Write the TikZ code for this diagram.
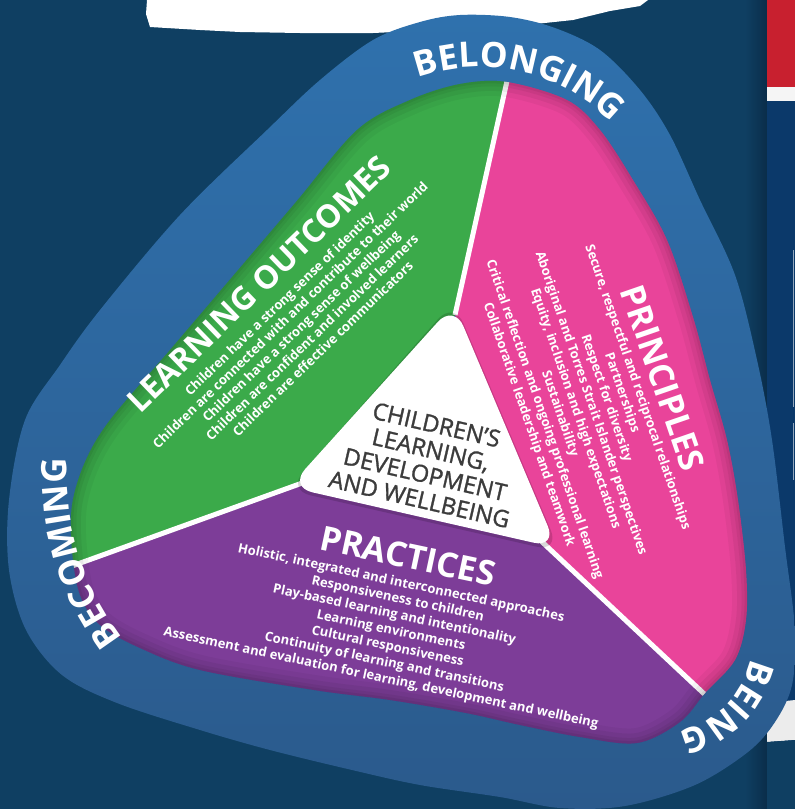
\documentclass[tikz,border=0pt]{standalone}
\usepackage{fontspec}
\setmainfont{Open Sans}
\newfontfamily\centerfont[FakeBold=1.3]{Open Sans}
\usetikzlibrary{decorations.text}
\definecolor{bg}{HTML}{0F3F62}
\definecolor{bgdark}{HTML}{0A2D4A}
\definecolor{pagenavy}{HTML}{0B396A}
\definecolor{pagered}{HTML}{C8202F}
\definecolor{ringtop}{HTML}{2F71AD}
\definecolor{ringbot}{HTML}{2B5A8C}
\definecolor{seggreen}{HTML}{3BAA4A}
\definecolor{segpink}{HTML}{E9449A}
\definecolor{segpurple}{HTML}{7D3D98}
\definecolor{coretext}{HTML}{3C3C3C}
\newcommand\ringfont{\bfseries\fontsize{35}{35}\selectfont}
\tikzset{
  segtitle/.style={text=white, inner sep=0pt, font=\bfseries\fontsize{34}{34}\selectfont},
  seglist/.style={text=white, align=center, inner sep=0pt, font=\bfseries\fontsize{13}{16.2}\selectfont},
  centertext/.style={text=coretext, align=center, inner sep=0pt, font=\centerfont\fontsize{23.5}{25.5}\selectfont},
  divider/.style={white, line width=5pt},
  innershade/.style={black, opacity=#1},
}
\begin{document}
\begin{tikzpicture}[x=1pt,y=1pt]
\useasboundingbox (0,0) rectangle (795,-809);
\fill[bg] (0,0) rectangle (795,-809);
% right page
\shade[left color=bg, right color=bgdark] (745,0) rectangle (767,-809);
\fill[pagenavy] (767,0) rectangle (795,-809);
\fill[pagered] (767,0) rectangle (795,-87);
\fill[white!92!gray] (767,-87) rectangle (795,-101);
\draw[white!55!pagenavy, line width=1pt] (793,-250) -- (793,-407);
\draw[white!55!pagenavy, line width=1pt] (793,-423) -- (793,-480);
\fill[white!85!gray] (767,-703) -- (795,-700) -- (795,-740) -- (767,-742) -- cycle;
\fill[bg] (767,-742) -- (795,-740) -- (795,-809) -- (767,-809) -- cycle;
% torn paper
\fill[white] (147,0) -- (146,-14) -- (150,-27) -- (200,-30) -- (240,-32) -- (300,-33) -- (373,-33) -- (440,-30) -- (507,-27) -- (573,-20) -- (610,-11) -- (640,-6) -- (648,0) -- cycle;
% ring
\shade[top color=ringtop, bottom color=ringbot] plot[smooth cycle, tension=0.55] coordinates {
 (460,-15) (510,-17) (555,-28) (600,-50) (640,-90) (670,-135) (700,-200) (735,-275) (757,-360) (772,-440) (785,-547) (795,-630) (792,-685) (775,-722) (748,-752) (695,-785) (625,-806) (560,-808) (500,-797) (420,-785) (352,-770) (270,-750) (200,-730) (117,-703) (62,-675) (26,-630) (9,-570) (9,-500) (25,-420) (60,-365) (100,-310) (180,-215) (267,-130) (320,-80) (373,-40) (420,-22)};
% segments
\begin{scope}
\clip plot[smooth cycle, tension=0.55] coordinates {
 (460,-84) (507,-82) (567,-100) (600,-130) (633,-180) (667,-240) (693,-317) (710,-380) (727,-440) (738,-500) (746,-570) (746,-620) (735,-660) (705,-693) (680,-722) (637,-743) (580,-737) (520,-725) (466,-713) (390,-700) (314,-690) (200,-670) (140,-648) (100,-625) (80,-595) (72,-550) (72,-505) (85,-462) (110,-420) (170,-350) (233,-276) (296,-202) (357,-130) (410,-100)};
\fill[seggreen] (455,-315) -- (525,0) -- (0,0) -- (0,-592) -- (305,-482) -- cycle;
\fill[segpink] (455,-315) -- (525,0) -- (795,0) -- (795,-779) -- (540,-540) -- cycle;
\fill[segpurple] (305,-482) -- (0,-592) -- (0,-809) -- (795,-809) -- (795,-779) -- (540,-540) -- cycle;
\coordinate (T) at (455,-315);
\coordinate (Aend) at (525,0);
\coordinate (L) at (305,-482);
\coordinate (Bend) at (0,-592);
\coordinate (R) at (540,-540);
\coordinate (Cend) at (795,-779);
\draw[divider] (T) -- (Aend);
\draw[divider] (L) -- (Bend);
\draw[divider] (R) -- (Cend);
\foreach \w/\o in {30/0.04, 20/0.05, 11/0.05, 5/0.06}{
\draw[innershade=\o, line width=\w pt] plot[smooth cycle, tension=0.55] coordinates {
 (460,-84) (507,-82) (567,-100) (600,-130) (633,-180) (667,-240) (693,-317) (710,-380) (727,-440) (738,-500) (746,-570) (746,-620) (735,-660) (705,-693) (680,-722) (637,-743) (580,-737) (520,-725) (466,-713) (390,-700) (314,-690) (200,-670) (140,-648) (100,-625) (80,-595) (72,-550) (72,-505) (85,-462) (110,-420) (170,-350) (233,-276) (296,-202) (357,-130) (410,-100)};
}
\end{scope}
% centre triangle
\fill[black, opacity=0.15, rounded corners=24pt] (454,-301) -- (287,-490) -- (560,-552) -- cycle;
\fill[white, rounded corners=24pt] (454,-304) -- (289,-487) -- (557,-548) -- cycle;
\node[centertext, rotate=-13] (core) at (428,-462) {CHILDREN’S\\LEARNING,\\DEVELOPMENT\\AND WELLBEING};
% segment texts
\node[segtitle, rotate=44, font=\bfseries\fontsize{32}{32}\selectfont] (lotitle) at (259,-284) {LEARNING OUTCOMES};
\node[seglist, rotate=44, font=\bfseries\fontsize{13}{15.6}\selectfont] (lolist) at (301,-326) {Children have a strong sense of identity\\Children are connected with and contribute to their world\\Children have a strong sense of wellbeing\\Children are confident and involved learners\\Children are effective communicators};
\node[segtitle, rotate=-71] (prtitle) at (663,-378) {PRINCIPLES};
\node[seglist, rotate=-71, font=\bfseries\fontsize{13}{16.4}\selectfont] (prlist) at (583,-406) {Secure, respectful and reciprocal relationships\\Partnerships\\Respect for diversity\\Aboriginal and Torres Strait Islander perspectives\\Equity, inclusion and high expectations\\Sustainability\\Critical reflection and ongoing professional learning\\Collaborative leadership and teamwork};
\node[segtitle, rotate=-12] (pctitle) at (408,-556) {PRACTICES};
\node[seglist, rotate=-12] (pclist) at (391,-631) {Holistic, integrated and interconnected approaches\\Responsiveness to children\\Play-based learning and intentionality\\Learning environments\\Cultural responsiveness\\Continuity of learning and transitions\\Assessment and evaluation for learning, development and wellbeing};
% ring words
\path[decorate, decoration={text along path, text align=center, text color=white, text={|\ringfont|BELONGING}}] (480,-250) ++(122:183) arc[start angle=122, end angle=32, radius=183];
\path[decorate, decoration={text along path, text align=center, text color=white, text={|\ringfont|BEING}}] (660,-640) ++(8:93) arc[start angle=8, end angle=-98, radius=93];
\path[decorate, decoration={text along path, text align=center, text color=white, text={|\ringfont|BECOMING}}] (335,-475) ++(238:268) arc[start angle=238, end angle=156, radius=268];
\end{tikzpicture}
\end{document}
